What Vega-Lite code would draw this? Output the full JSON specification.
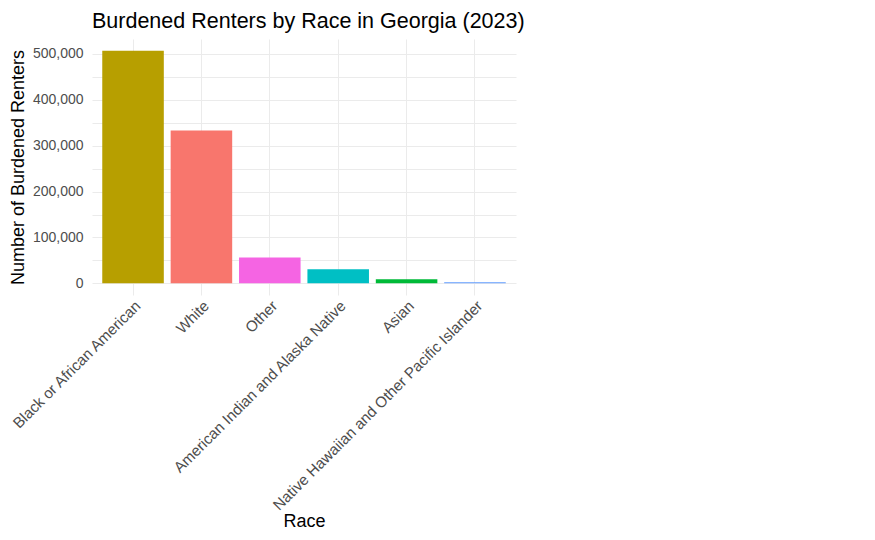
{
  "$schema": "https://vega.github.io/schema/vega-lite/v6.json",
  "width": 424,
  "height": 256,
  "autosize": {"type": "none"},
  "padding": {"left": 92, "top": 39, "right": 359, "bottom": 245},
  "background": "white",
  "config": {
    "font": "Liberation Sans",
    "view": {"stroke": null}
  },
  "title": {
    "text": "Burdened Renters by Race in Georgia (2023)",
    "anchor": "start",
    "frame": "group",
    "fontSize": 21.5,
    "fontWeight": "normal",
    "color": "#000000",
    "font": "Liberation Sans",
    "offset": 7
  },
  "data": {
    "values": [
      {"race": "Black or African American", "renters": 507300},
      {"race": "White", "renters": 333100},
      {"race": "Other", "renters": 56600},
      {"race": "American Indian and Alaska Native", "renters": 30500},
      {"race": "Asian", "renters": 8700},
      {"race": "Native Hawaiian and Other Pacific Islander", "renters": 2400}
    ]
  },
  "mark": {"type": "bar"},
  "encoding": {
    "x": {
      "field": "race",
      "type": "nominal",
      "sort": null,
      "title": "Race",
      "scale": {"paddingInner": 0.1, "paddingOuter": 0.15},
      "axis": {
        "bandPosition": 0.5,
        "labelAngle": -45,
        "labelAlign": "right",
        "labelBaseline": "top",
        "labelFontSize": 15.2,
        "labelColor": "#4D4D4D",
        "labelPadding": 3,
        "labelLimit": 0,
        "labelOverlap": false,
        "ticks": false,
        "domain": false,
        "grid": true,
        "gridColor": "#EBEBEB",
        "gridWidth": 1,
        "titleFontSize": 18,
        "titleFontWeight": "normal",
        "titleColor": "#000000",
        "titlePadding": 17
      }
    },
    "y": {
      "field": "renters",
      "type": "quantitative",
      "title": "Number of Burdened Renters",
      "scale": {"domain": [-25365, 532665], "nice": false, "zero": false},
      "axis": {
        "values": [0, 50000, 100000, 150000, 200000, 250000, 300000, 350000, 400000, 450000, 500000],
        "labelExpr": "datum.value % 100000 === 0 ? format(datum.value, ',') : ''",
        "labelFontSize": 14,
        "labelColor": "#4D4D4D",
        "labelPadding": 9,
        "ticks": false,
        "domain": false,
        "grid": true,
        "gridColor": "#EBEBEB",
        "gridWidth": 1,
        "titleFontSize": 18,
        "titleFontWeight": "normal",
        "titleColor": "#000000",
        "titlePadding": 5
      }
    },
    "fill": {
      "field": "race",
      "type": "nominal",
      "legend": null,
      "scale": {
        "domain": ["Black or African American", "White", "Other", "American Indian and Alaska Native", "Asian", "Native Hawaiian and Other Pacific Islander"],
        "range": ["#B79F00", "#F8766D", "#F564E3", "#00BFC4", "#00BA38", "#619CFF"]
      }
    }
  }
}
